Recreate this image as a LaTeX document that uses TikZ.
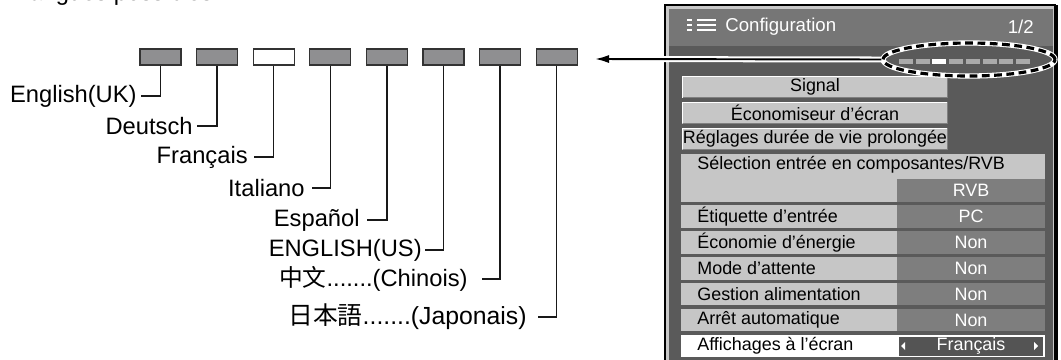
\documentclass[tikz,border=0pt]{standalone}
\usepackage{fontspec}
\setmainfont{Liberation Sans}
\newfontfamily\cjksc{Noto Sans CJK SC}
\newfontfamily\cjkjp{Noto Sans CJK JP}
\usetikzlibrary{
    arrows.meta,
    positioning,
    shapes.geometric,
    calc
}
\definecolor{KeyGray}{RGB}{143,143,145}
\definecolor{HeadGray}{RGB}{118,118,118}
\definecolor{BodyGray}{RGB}{90,90,90}
\definecolor{RimGray}{RGB}{200,200,200}
\definecolor{CellLight}{RGB}{198,198,198}
\definecolor{CellDark}{RGB}{126,126,126}
\definecolor{CellDeep}{RGB}{84,84,84}
\definecolor{DotGray}{RGB}{170,170,170}
\newcommand{\leaderdots}{.......}
\tikzset{
  key/.style     = {draw=black!80, line width=0.6pt, minimum width=0.82cm,
                    minimum height=0.32cm, inner sep=0},
  langlbl/.style = {anchor=east, inner ysep=0, font=\fontsize{13.5}{16}\selectfont},
  lead/.style    = {line width=0.75pt, black!90},
  cell/.style    = {inner sep=0, font=\fontsize{10.2}{12}\selectfont},
  val/.style     = {cell, text=white},
  lbl/.style     = {cell, anchor=west}
}

\begin{document}
\begin{tikzpicture}[x=0.02cm, y=-0.02cm]
\useasboundingbox (0,0) rectangle (1061,359);

% heading, cut off by the page edge
\node[anchor=base west, inner sep=0, font=\fontsize{13.5}{16}\selectfont] (title) at (16,0.8) {Langues possibles};

% language keys and their labels
\foreach \i/\f in {0/KeyGray,1/KeyGray,2/white,3/KeyGray,4/KeyGray,5/KeyGray,6/KeyGray,7/KeyGray}
  \node[key, fill=\f] (k\i) at ({160.5+56.6*\i},57) {};
\foreach \i/\x/\y/\g/\lang in {0/141/96/2.3/English(UK), 1/197/126/2.3/Deutsch,
    2/254/157/3.4/Français, 3/312/188/4/Italiano, 4/367/220/4/Español,
    5/425/250/1.7/ENGLISH(US), 6/482/279/8/{\cjksc 中文}\leaderdots(Chinois),
    7/538/317/6.3/{\fontsize{14.1}{16}\selectfont{\cjkjp 日本語}\leaderdots(Japonais)}}
{
  \node[langlbl, inner xsep=\g pt] (l\i) at (\x,\y) {\lang};
  \draw[lead] (k\i.south) |- (l\i.east);
}

% menu panel
\fill[RimGray] (665,5) rectangle (1058,365);
\fill[HeadGray] (669,9) rectangle (1053,46);
\fill[BodyGray] (669,46) rectangle (1053,365);
\draw[line width=0.6pt] (665,365) -- (665,5) -- (1056,5);
\fill[black] (1053.5,5) rectangle (1058,365);

% header
\foreach \r in {0,1,2} {
  \fill[white] (687,{18.5+5*\r}) rectangle +(5,2.8);
  \fill[white] (697,{18.5+5*\r}) rectangle +(19,2.8);
}
\node[cell, anchor=west, text=white, font=\fontsize{10.6}{12}\selectfont] (head) at (725,27) {Configuration};
\node[cell, anchor=east, text=white, font=\fontsize{10.6}{12}\selectfont] (page) at (1034,27) {1/2};

% buttons
\foreach \k/\txt in {0/Signal, 1/Économiseur d’écran, 2/Réglages durée de vie prolongée} {
  \pgfmathsetmacro\c{87+25.9*\k}
  \fill[CellLight] (682,\c-11) rectangle (948,\c+11);
  \draw[white, line width=0.9pt] (682.5,\c+10.5) -- (682.5,\c-10.5) -- (947.5,\c-10.5);
  \draw[black!50, line width=0.9pt] (947.5,\c-10.5) -- (947.5,\c+10.5) -- (682.5,\c+10.5);
  \node[cell] (btn\k) at (815,\c) {\txt};
}

% input selection block
\fill[CellLight] (681,153.5) rectangle (1045,201.8);
\fill[CellDark] (897,179.4) rectangle (1045,201.8);
\node[lbl] (sel3) at (697,164.7) {Sélection entrée en composantes/RVB};
\node[val] (v4) at (971,190.6) {RVB};

% setting rows
\foreach \k/\txt/\v in {5/Étiquette d’entrée/PC, 6/Économie d’énergie/Non,
    7/Mode d’attente/Non, 8/Gestion alimentation/Non, 9/Arrêt automatique/Non} {
  \pgfmathsetmacro\c{87+25.9*\k}
  \fill[CellLight] (681,\c-11.2) rectangle (897,\c+11.2);
  \fill[CellDark] (897,\c-11.2) rectangle (1045,\c+11.2);
  \node[lbl] (r\k) at (697,\c) {\txt};
  \node[val] (v\k) at (971,\c) {\v};
}

% on-screen language row
\fill[white] (681,334.8) rectangle (1045,357.2);
\fill[CellDeep] (898.5,336.5) rectangle (1043,355.5);
\fill[white] (901,346) -- (905,342) -- (905,350) -- cycle;
\fill[white] (1038,346) -- (1034,342) -- (1034,350) -- cycle;
\node[lbl] (r10) at (697,346) {Affichages à l’écran};
\node[val] (v10) at (971,346) {Français};

% page dots in the header
\foreach \j/\f in {0/DotGray,1/DotGray,2/white,3/DotGray,4/DotGray,5/DotGray,6/DotGray,7/DotGray}
  \fill[\f] ({899+16.7*\j},59.3) rectangle +(14,4.6);

% pointer from the marked dots to the keys
\node[ellipse, minimum width=3.44cm, minimum height=0.66cm, inner sep=0,
      draw=black, line width=1.8pt, dash pattern=on 4.4pt off 2.6pt,
      preaction={draw=white, solid, line width=3pt}] (dots) at (969,59.5) {};
\coordinate (tip) at (595,59);
\draw[white, line width=3.4pt] (dots.west) -- (tip);
\draw[-{Latex[length=8pt,width=4.6pt]}, line width=1.1pt] (dots.west) -- (tip);
\end{tikzpicture}
\end{document}
